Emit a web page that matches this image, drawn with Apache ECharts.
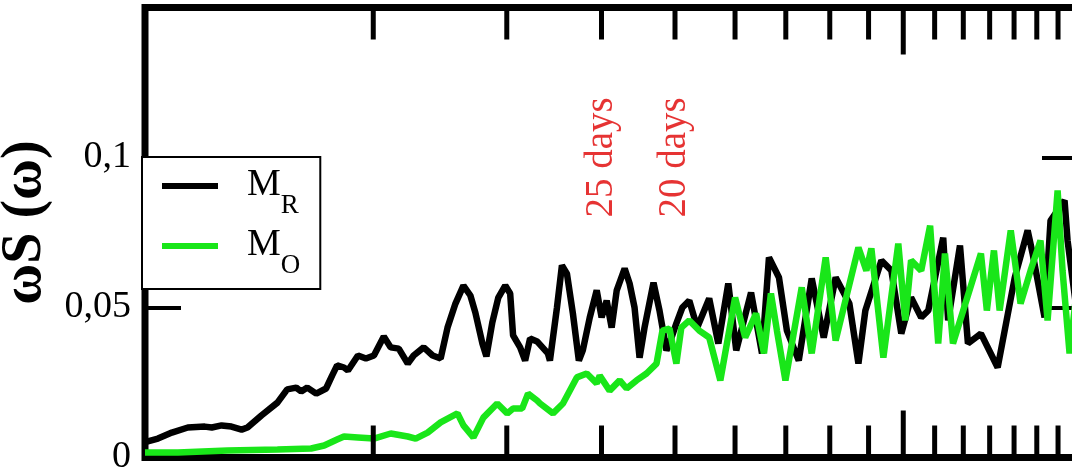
<!DOCTYPE html>
<html>
<head>
<meta charset="utf-8">
<script src="https://cdn.jsdelivr.net/npm/echarts@6/dist/echarts.min.js"></script>
<style>
  html, body { margin: 0; padding: 0; background: #fff; }
  #chart { width: 1072px; height: 474px; }
</style>
</head>
<body>
<div id="chart"></div>
<script>
// Spectrum of the M_R record: frequency (1/day) and omega*S(omega)
const omegaR = [
  0.01000, 0.01040, 0.01085, 0.01139, 0.01199, 0.01225, 0.01262, 0.01300, 0.01341, 0.01365,
  0.01424, 0.01495, 0.01540, 0.01583, 0.01607, 0.01637, 0.01682, 0.01733, 0.01765, 0.01792,
  0.01830, 0.01852, 0.01909, 0.01956, 0.02004, 0.02065, 0.02109, 0.02161, 0.02221, 0.02261,
  0.02331, 0.02395, 0.02454, 0.02506, 0.02567, 0.02630, 0.02686, 0.02727, 0.02786, 0.02820,
  0.02871, 0.02924, 0.02986, 0.03031, 0.03058, 0.03124, 0.03172, 0.03220, 0.03289, 0.03399,
  0.03420, 0.03494, 0.03547, 0.03601, 0.03667, 0.03734, 0.03779, 0.03860, 0.03942, 0.04001,
  0.04063, 0.04125, 0.04189, 0.04291, 0.04356, 0.04422, 0.04490, 0.04558, 0.04684, 0.04770,
  0.04872, 0.04917, 0.05021, 0.05113, 0.05222, 0.05349, 0.05547, 0.05703, 0.05878, 0.06022,
  0.06299, 0.06512, 0.06651, 0.06856, 0.07023, 0.07281, 0.07573, 0.07854, 0.08144, 0.08490,
  0.08727, 0.08913, 0.09358, 0.09645, 0.09940, 0.1024, 0.1056, 0.1079, 0.1129, 0.1146,
  0.1188, 0.1217, 0.1266, 0.1332, 0.1403, 0.1459, 0.1481, 0.1536, 0.1564, 0.1632,
  0.1647, 0.1687
];
const spectrumR = [
  0.0051, 0.0063, 0.0083, 0.0100, 0.0103, 0.0100, 0.0107, 0.0103, 0.0093, 0.0100,
  0.0140, 0.0183, 0.0227, 0.0233, 0.0220, 0.0233, 0.0213, 0.0230, 0.0273, 0.0307,
  0.0300, 0.0290, 0.0340, 0.0330, 0.0340, 0.0403, 0.0367, 0.0363, 0.0313, 0.0340,
  0.0367, 0.0340, 0.0330, 0.0433, 0.0513, 0.0573, 0.0540, 0.0483, 0.0380, 0.0337,
  0.0450, 0.0533, 0.0573, 0.0547, 0.0407, 0.0367, 0.0323, 0.0397, 0.0387, 0.0347,
  0.0323, 0.0500, 0.0640, 0.0613, 0.0480, 0.0323, 0.0357, 0.0467, 0.0557, 0.0467,
  0.0523, 0.0433, 0.0557, 0.0630, 0.0580, 0.0500, 0.0333, 0.0433, 0.0583, 0.0490,
  0.0357, 0.0380, 0.0447, 0.0500, 0.0523, 0.0433, 0.0530, 0.0380, 0.0580, 0.0357,
  0.0550, 0.0347, 0.0667, 0.0600, 0.0423, 0.0323, 0.0597, 0.0400, 0.0600, 0.0513,
  0.0313, 0.0490, 0.0657, 0.0623, 0.0413, 0.0533, 0.0467, 0.0490, 0.0733, 0.0457,
  0.0707, 0.0380, 0.0413, 0.0300, 0.0600, 0.0757, 0.0680, 0.0467, 0.0790, 0.0857,
  0.0723, 0.0520
];

// Spectrum of the M_O record
const omegaO = [
  0.01000, 0.01105, 0.01285, 0.01495, 0.01656, 0.01723, 0.01792, 0.01830, 0.01909, 0.02004,
  0.02109, 0.02221, 0.02275, 0.02359, 0.02454, 0.02583, 0.02630, 0.02711, 0.02794, 0.02914,
  0.03004, 0.03058, 0.03143, 0.03200, 0.03289, 0.03319, 0.03452, 0.03558, 0.03711, 0.03825,
  0.03942, 0.03978, 0.04100, 0.04227, 0.04317, 0.04449, 0.04586, 0.04727, 0.04813, 0.04917,
  0.05021, 0.05097, 0.05222, 0.05382, 0.05547, 0.05738, 0.06001, 0.06188, 0.06395, 0.06551,
  0.06691, 0.06814, 0.06992, 0.07347, 0.07573, 0.07901, 0.08144, 0.08727, 0.08940, 0.09077,
  0.09414, 0.09850, 0.1006, 0.1024, 0.1056, 0.1085, 0.1112, 0.1135, 0.1163, 0.1266,
  0.1289, 0.1317, 0.1340, 0.1386, 0.1428, 0.1472, 0.1517, 0.1550, 0.1598, 0.1622,
  0.1657, 0.1687
];
const spectrumO = [
  0.0017, 0.0017, 0.0023, 0.0027, 0.0030, 0.0040, 0.0060, 0.0070, 0.0067, 0.0063,
  0.0080, 0.0070, 0.0063, 0.0083, 0.0117, 0.0147, 0.0107, 0.0067, 0.0133, 0.0180,
  0.0147, 0.0163, 0.0163, 0.0213, 0.0190, 0.0180, 0.0147, 0.0180, 0.0267, 0.0280,
  0.0247, 0.0273, 0.0223, 0.0257, 0.0230, 0.0257, 0.0280, 0.0313, 0.0423, 0.0430,
  0.0313, 0.0433, 0.0457, 0.0423, 0.0400, 0.0257, 0.0533, 0.0400, 0.0480, 0.0347,
  0.0547, 0.0423, 0.0257, 0.0567, 0.0347, 0.0667, 0.0390, 0.0700, 0.0623, 0.0697,
  0.0333, 0.0713, 0.0457, 0.0657, 0.0623, 0.0773, 0.0380, 0.0680, 0.0380, 0.0680,
  0.0490, 0.0690, 0.0490, 0.0757, 0.0513, 0.0623, 0.0723, 0.0457, 0.0890, 0.0623,
  0.0347, 0.0520
];

// Axis ticks and labels
const xTicksMinor = [0.02, 0.03, 0.04, 0.05, 0.06, 0.07, 0.08, 0.09, 0.11, 0.12, 0.13, 0.14, 0.15, 0.16];
const xTicksMajor = [0.1];
const yTicks = [0, 0.05, 0.1];
const yTickLabels = ['0', '0,05', '0,1'];

// Period markers
const periodOmega = [0.04, 0.05];
const periodLabels = ['25 days', '20 days'];

// Series names and legend subscripts
const seriesNames = ['MR', 'MO'];
const seriesSubs = ['R', 'O'];

const SERIF = 'Liberation Serif';
const zip = (xs, ys) => xs.map((x, i) => [x, ys[i]]);
const tickData = xTicksMinor.map(v => [v, 0, 0]).concat(xTicksMajor.map(v => [v, 0, 1]));

function yLabel(v) {
  const i = yTicks.findIndex(t => Math.abs(t - v) < 1e-9);
  return i >= 0 ? yTickLabels[i] : '';
}

const chart = echarts.init(document.getElementById('chart'), null, { renderer: 'canvas' });
chart.setOption({
  animation: false,
  backgroundColor: '#fff',
  textStyle: { fontFamily: SERIF },
  grid: {
    left: 145, top: 7.5, width: 933, height: 450,
    show: true, borderColor: '#000', borderWidth: 7, backgroundColor: 'transparent',
    containLabel: false, outerBoundsMode: 'none'
  },
  xAxis: {
    type: 'log', logBase: 10, min: 0.01, max: 0.17,
    axisLine: { show: false }, axisTick: { show: false }, axisLabel: { show: false },
    splitLine: { show: false }, minorTick: { show: false }
  },
  yAxis: [
    {
      type: 'value', min: 0, max: 0.15, interval: 0.05, position: 'left',
      axisLine: { show: false },
      axisTick: { show: true, inside: true, length: 36, lineStyle: { color: '#000', width: 4 } },
      axisLabel: { formatter: yLabel, margin: 14, fontFamily: SERIF, fontSize: 38, color: '#000' },
      splitLine: { show: false },
      name: 'ωS (ω)', nameLocation: 'middle', nameGap: 82,
      nameTextStyle: { fontFamily: SERIF, fontSize: 56, fontWeight: 'bold', color: '#000', padding: [0, 0, 0, 20] }
    },
    {
      type: 'value', min: 0, max: 0.15, interval: 0.05, position: 'right',
      axisLine: { show: false },
      axisTick: { show: true, inside: true, length: 36, lineStyle: { color: '#000', width: 4 } },
      axisLabel: { show: false }, splitLine: { show: false }
    }
  ],
  legend: {
    orient: 'vertical', left: 142, top: 157,
    padding: [9, 20, 10, 20], itemGap: 7,
    itemWidth: 56, itemHeight: 6, icon: 'rect',
    borderColor: '#000', borderWidth: 2, backgroundColor: '#fff',
    data: seriesNames,
    formatter: name => '{m|M}{s|' + seriesSubs[seriesNames.indexOf(name)] + '}',
    textStyle: {
      fontFamily: SERIF,
      rich: {
        m: { fontFamily: SERIF, fontSize: 38, color: '#000', lineHeight: 40, verticalAlign: 'top', padding: [0, 0, 0, 24] },
        s: { fontFamily: SERIF, fontSize: 27, color: '#000', lineHeight: 27, verticalAlign: 'top', padding: [26, 0, 0, 0] }
      }
    }
  },
  series: [
    {
      name: seriesNames[0], type: 'line', data: zip(omegaR, spectrumR),
      showSymbol: false, symbol: 'none', color: '#000',
      itemStyle: { color: '#000' },
      lineStyle: { color: '#000', width: 6.5 }, z: 2
    },
    {
      name: seriesNames[1], type: 'line', data: zip(omegaO, spectrumO),
      showSymbol: false, symbol: 'none', color: '#19e619',
      itemStyle: { color: '#19e619' },
      lineStyle: { color: '#19e619', width: 6.5 }, z: 3
    },
    {
      name: 'periods', type: 'scatter', silent: true, symbolSize: 0,
      data: periodOmega.map((w, i) => ({ value: [w, 0.08], name: periodLabels[i] })),
      label: {
        show: true, position: 'inside', rotate: 90, align: 'left', verticalAlign: 'middle',
        formatter: p => p.name, fontFamily: SERIF, fontSize: 39, color: '#e00000'
      },
      z: 5
    },
    {
      name: 'xticks', type: 'custom', silent: true, clip: false, z: 6,
      data: tickData, encode: { x: 0, y: 1 },
      renderItem: (params, api) => {
        const v = api.value(0);
        const major = api.value(2) === 1;
        const bottom = api.coord([v, 0]);
        const top = api.coord([v, 0.15]);
        const len = major ? 47 : 32;
        const style = { stroke: '#000', lineWidth: 5 };
        return {
          type: 'group',
          children: [
            { type: 'line', shape: { x1: bottom[0], y1: bottom[1], x2: bottom[0], y2: bottom[1] - len }, style },
            { type: 'line', shape: { x1: top[0], y1: top[1], x2: top[0], y2: top[1] + len }, style }
          ]
        };
      }
    }
  ]
});
</script>
</body>
</html>
